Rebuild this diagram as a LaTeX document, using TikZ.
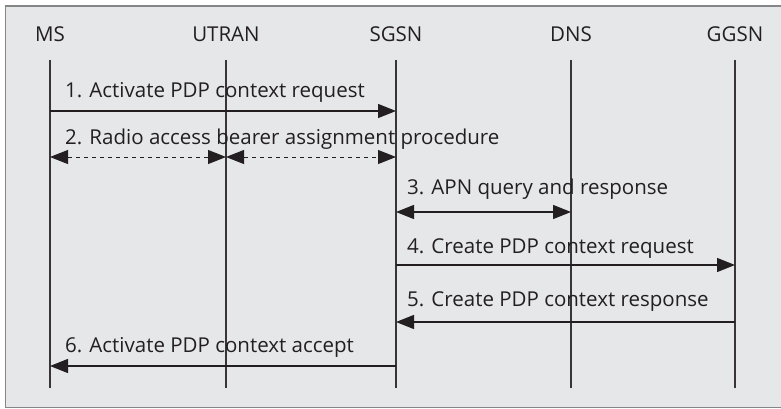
\documentclass[tikz,border=0pt]{standalone}
\usepackage{fontspec}
\setmainfont{Open Sans}
\usetikzlibrary{arrows.meta}
\definecolor{panel}{HTML}{E6E7E9}
\definecolor{rim}{HTML}{858688}
\definecolor{ink}{HTML}{231F20}
\tikzset{solidhead/.tip={Triangle[length=18pt,width=14pt]}}
\begin{document}
\begin{tikzpicture}[x=1pt,y=-1pt,
  entity/.style={font=\fontsize{20.5}{24}\selectfont, text=ink, anchor=base, inner sep=0pt},
  msglabel/.style={font=\fontsize{20.5}{24}\selectfont, text=ink, anchor=base west, inner sep=0pt},
  lifeline/.style={draw=ink!90, line width=1.1pt},
  msg/.style={draw=ink, line width=1.2pt, -{solidhead}},
  both/.style={draw=ink, line width=1.2pt, {solidhead}-{solidhead}},
  bothdash/.style={both, line width=1pt, dash pattern=on 4pt off 4pt}]
  \useasboundingbox (0,0) rectangle (781,408);
  % panel
  \fill[white] (0,0) rectangle (781,408);
  \draw[rim, fill=panel, line width=1.4pt] (5.5,6) rectangle (795,407.5);

  % entities and their lifelines
  \foreach \n/\t/\x in {ms/MS/50, utran/UTRAN/226, sgsn/SGSN/396, dns/DNS/571, ggsn/GGSN/735}{
    \node[entity] (\n) at (\x,41) {\t};
    \coordinate (\n top) at (\x,60);
    \coordinate (\n bot) at (\x,388);
    \draw[lifeline] (\n top) -- (\n bot);
  }

  % message end points on the lifelines
  \coordinate (ms1) at (50,111);    \coordinate (sgsn1) at (396,111);
  \coordinate (ms2) at (50,157);    \coordinate (utran2) at (226,157); \coordinate (sgsn2) at (396,157);
  \coordinate (sgsn3) at (396,212); \coordinate (dns3) at (571,212);
  \coordinate (sgsn4) at (396,265); \coordinate (ggsn4) at (735,265);
  \coordinate (sgsn5) at (396,322); \coordinate (ggsn5) at (735,322);
  \coordinate (ms6) at (50,366);    \coordinate (sgsn6) at (396,366);

  % messages
  \draw[msg] (ms1) -- (sgsn1);
  \draw[bothdash] (ms2) -- (utran2);
  \draw[bothdash] (utran2) -- (sgsn2);
  \draw[both] (sgsn3) -- (dns3);
  \draw[msg] (sgsn4) -- (ggsn4);
  \draw[msg] (ggsn5) -- (sgsn5);
  \draw[msg] (sgsn6) -- (ms6);

  % message labels
  \node[msglabel] (l1) at (65,97)  {1. Activate PDP context request};
  \node[msglabel] (l2) at (65,144) {2. Radio access bearer assignment procedure};
  \node[msglabel] (l3) at (407,194) {3. APN query and response};
  \node[msglabel] (l4) at (407,253) {4. Create PDP context request};
  \node[msglabel] (l5) at (407,306) {5. Create PDP context response};
  \node[msglabel] (l6) at (65,352) {6. Activate PDP context accept};
\end{tikzpicture}
\end{document}
